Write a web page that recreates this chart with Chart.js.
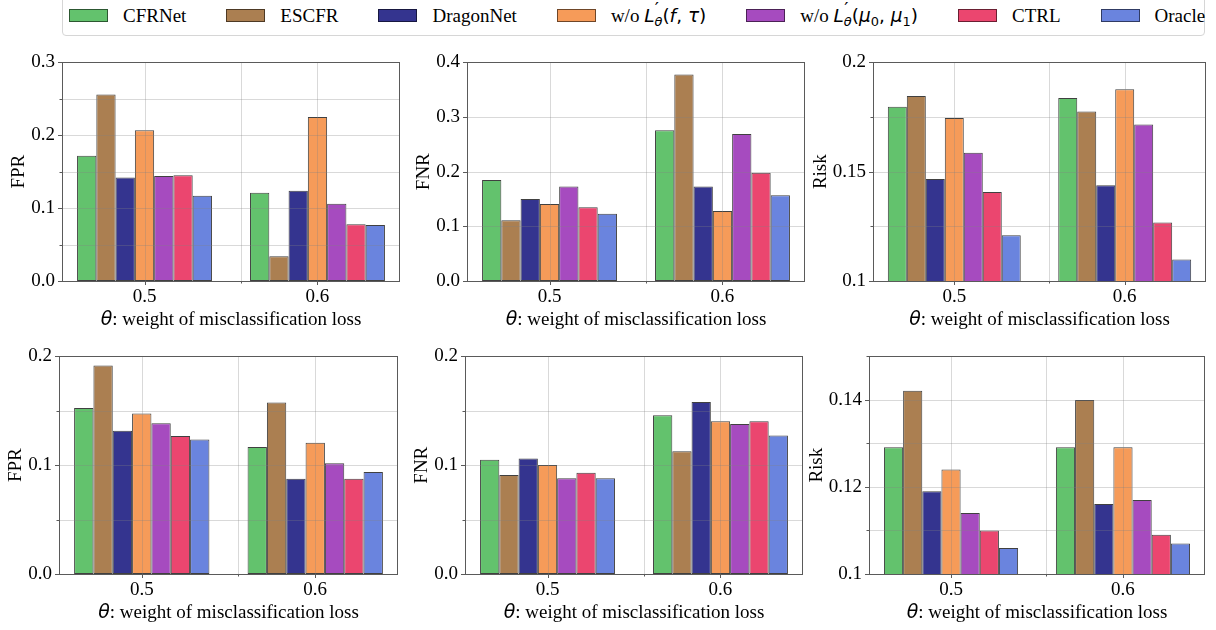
<!DOCTYPE html>
<html>
<head>
<meta charset="utf-8">
<script src="https://cdn.jsdelivr.net/npm/chart.js@4.4.1/dist/chart.umd.min.js"></script>
<style>
  html, body { margin: 0; padding: 0; background: #fff; }
  body { width: 1216px; height: 630px; position: relative; overflow: hidden; }
  canvas { position: absolute; }
  #legend {
    position: absolute; left: 62px; top: -4px; width: 1143px; height: 39.5px;
    box-sizing: border-box; border: 1px solid #d6d6d6; border-radius: 4px;
    display: flex; align-items: center; padding-left: 6px;
    font: 19px "Liberation Serif", serif; color: #000; white-space: nowrap;
  }
  .item { display: flex; align-items: center; margin-right: 40px; }
  .patch { width: 39px; height: 13px; margin-right: 15px; box-sizing: border-box; border: 1px solid rgba(0,0,0,0.55); }
  .m { font-family: "DejaVu Sans", sans-serif; font-size: 18.5px; }
  .m i { font-style: italic; }
  .m .pr { font-size: 1em; position: relative; top: -0.35em; margin-left: 0.02em; }
  .m .sb { font-size: 0.7em; margin-left: -0.35em; position: relative; top: 0.3em; font-style: italic; }
  .m .ix { font-size: 0.7em; position: relative; top: 0.3em; }
</style>
</head>
<body>
<div id="legend"></div>
<script>
// categories and methods
var thetas = ["0.5", "0.6"];
var methods = ["CFRNet", "ESCFR", "DragonNet", "w/o L'θ(f, τ)", "w/o L'θ(μ0, μ1)", "CTRL", "Oracle"];
var legendMarkup = [
  "CFRNet", "ESCFR", "DragonNet",
  'w/o <span class="m"><i>L</i><span class="pr">′</span><span class="sb">θ</span>(<i>f</i>, <i>τ</i>)</span>',
  'w/o <span class="m"><i>L</i><span class="pr">′</span><span class="sb">θ</span>(<i>μ</i><span class="ix">0</span>, <i>μ</i><span class="ix">1</span>)</span>',
  "CTRL", "Oracle"
];

// values per method: [theta 0.5, theta 0.6]
var fprTop = [[0.172, 0.121], [0.256, 0.034], [0.142, 0.124], [0.207, 0.225], [0.144, 0.106], [0.145, 0.078], [0.117, 0.077]];
var fnrTop = [[0.185, 0.276], [0.111, 0.378], [0.150, 0.173], [0.141, 0.128], [0.173, 0.269], [0.135, 0.198], [0.123, 0.157]];
var riskTop = [[0.1797, 0.1837], [0.1846, 0.1775], [0.1467, 0.1438], [0.1746, 0.1877], [0.1587, 0.1716], [0.1407, 0.1268], [0.1209, 0.1098]];
var fprBottom = [[0.1525, 0.1167], [0.1916, 0.1576], [0.1316, 0.0875], [0.1475, 0.1206], [0.1385, 0.1018], [0.1269, 0.0875], [0.1236, 0.0937]];
var fnrBottom = [[0.1049, 0.1459], [0.0909, 0.1129], [0.1061, 0.1581], [0.1001, 0.1403], [0.088, 0.1379], [0.093, 0.1403], [0.088, 0.1272]];
var riskBottom = [[0.1291, 0.1291], [0.1421, 0.140], [0.119, 0.1161], [0.124, 0.1291], [0.114, 0.117], [0.110, 0.109], [0.106, 0.107]];

// y ticks (blank label = minor tick)
var fprTopTicks = [0, 0.05, 0.1, 0.15, 0.2, 0.25, 0.3];
var fprTopLabels = ["0.0", "", "0.1", "", "0.2", "", "0.3"];
var fnrTopTicks = [0, 0.1, 0.2, 0.3, 0.4];
var fnrTopLabels = ["0.0", "0.1", "0.2", "0.3", "0.4"];
var riskTopTicks = [0.1, 0.125, 0.15, 0.175, 0.2];
var riskTopLabels = ["0.1", "", "0.15", "", "0.2"];
var rateBottomTicks = [0, 0.05, 0.1, 0.15, 0.2];
var rateBottomLabels = ["0.0", "", "0.1", "", "0.2"];
var riskBottomTicks = [0.1, 0.11, 0.12, 0.13, 0.14, 0.15];
var riskBottomLabels = ["0.1", "", "0.12", "", "0.14", ""];

var xMinor = [0.555];
var xTitleRest = ": weight of misclassification loss";

var fills = ["#63c26d", "#ab7f51", "#34348f", "#f69b59", "#a64bbf", "#eb466f", "#6a84de"];
var edge = "rgba(0,0,0,0.75)";
var axisColor = "#5a5a5a";
var gridColor = "rgba(128,128,128,0.3)";
var serif = "'Liberation Serif', serif";
var fontSize = 19;

var panels = [
  { box: [62, 56, 400, 281], values: fprTop, ticks: fprTopTicks, labels: fprTopLabels, title: "FPR" },
  { box: [467, 56, 805, 281], values: fnrTop, ticks: fnrTopTicks, labels: fnrTopLabels, title: "FNR" },
  { box: [873, 56, 1206, 281], values: riskTop, ticks: riskTopTicks, labels: riskTopLabels, title: "Risk" },
  { box: [59, 350, 398, 574], values: fprBottom, ticks: rateBottomTicks, labels: rateBottomLabels, title: "FPR" },
  { box: [465, 350, 803, 574], values: fnrBottom, ticks: rateBottomTicks, labels: rateBottomLabels, title: "FNR" },
  { box: [869, 350, 1205, 574], values: riskBottom, ticks: riskBottomTicks, labels: riskBottomLabels, title: "Risk" }
];

var Y_W = 70, X_H = 52, PAD_T = 12, PAD_R = 6;

function buildLegend() {
  var el = document.getElementById("legend");
  legendMarkup.forEach(function (html, i) {
    var item = document.createElement("span");
    item.className = "item";
    item.innerHTML = '<span class="patch" style="background:' + fills[i] + '"></span><span>' + html + "</span>";
    el.appendChild(item);
  });
}

function decorPlugin(p) {
  return {
    id: "decor",
    afterDatasetsDraw: function (chart) {
      var ctx = chart.ctx, a = chart.chartArea, x = chart.scales.x, y = chart.scales.y;
      var ymin = p.ticks[0], ymax = p.ticks[p.ticks.length - 1];
      var textFont = fontSize + "px " + serif;
      var mathFont = "italic " + fontSize + "px 'DejaVu Sans'";
      ctx.save();
      // grid on top of bars, like matplotlib
      ctx.strokeStyle = gridColor;
      ctx.lineWidth = 1;
      ctx.beginPath();
      p.ticks.forEach(function (v) {
        if (v <= ymin || v >= ymax) return;
        var py = Math.round(y.getPixelForValue(v)) + 0.5;
        ctx.moveTo(a.left, py); ctx.lineTo(a.right, py);
      });
      [0, 1].concat(xMinor).forEach(function (v) {
        var px = Math.round(x.getPixelForValue(v)) + 0.5;
        ctx.moveTo(px, a.top); ctx.lineTo(px, a.bottom);
      });
      ctx.stroke();
      // frame and tick marks
      ctx.strokeStyle = axisColor;
      ctx.strokeRect(Math.round(a.left) + 0.5, Math.round(a.top) + 0.5, Math.round(a.right - a.left) - 1, Math.round(a.bottom - a.top));
      ctx.beginPath();
      p.ticks.forEach(function (v, i) {
        var py = Math.round(y.getPixelForValue(v)) + 0.5;
        var len = p.labels[i] ? 4 : 2.5;
        ctx.moveTo(a.left, py); ctx.lineTo(a.left - len, py);
      });
      [0, 1].forEach(function (v) {
        var px = Math.round(x.getPixelForValue(v)) + 0.5;
        ctx.moveTo(px, a.bottom); ctx.lineTo(px, a.bottom + 4);
      });
      xMinor.forEach(function (v) {
        var px = Math.round(x.getPixelForValue(v)) + 0.5;
        ctx.moveTo(px, a.bottom); ctx.lineTo(px, a.bottom + 2.5);
      });
      ctx.stroke();
      // axis titles
      ctx.fillStyle = "#000";
      ctx.font = textFont;
      var maxW = 0;
      p.labels.forEach(function (s) { maxW = Math.max(maxW, ctx.measureText(s).width); });
      ctx.save();
      ctx.translate(a.left - 7 - maxW - 12, (a.top + a.bottom) / 2);
      ctx.rotate(-Math.PI / 2);
      ctx.textAlign = "center";
      ctx.textBaseline = "middle";
      ctx.fillText(p.title, 0, 0);
      ctx.restore();
      ctx.font = mathFont;
      var wTheta = ctx.measureText("θ").width;
      ctx.font = textFont;
      var wRest = ctx.measureText(xTitleRest).width;
      var start = (a.left + a.right) / 2 - (wTheta + wRest) / 2;
      var base = a.bottom + 43.5;
      ctx.textAlign = "left";
      ctx.textBaseline = "alphabetic";
      ctx.font = mathFont;
      ctx.fillText("θ", start, base);
      ctx.font = textFont;
      ctx.fillText(xTitleRest, start + wTheta, base);
      ctx.restore();
    }
  };
}

function makePanel(p) {
  var l = p.box[0], t = p.box[1], r = p.box[2], b = p.box[3];
  var canvas = document.createElement("canvas");
  var left = l - Y_W, top = t - PAD_T;
  canvas.width = r + PAD_R - left;
  canvas.height = b + X_H - top;
  canvas.style.left = left + "px";
  canvas.style.top = top + "px";
  document.body.appendChild(canvas);
  new Chart(canvas, {
    type: "bar",
    data: {
      datasets: methods.map(function (m, i) {
        return {
          label: m,
          data: p.values[i].map(function (v, j) { return { x: j, y: v }; }),
          backgroundColor: fills[i],
          borderColor: edge,
          borderWidth: 1,
          borderSkipped: false
        };
      })
    },
    options: {
      responsive: false,
      animation: false,
      devicePixelRatio: 1,
      layout: { padding: { top: PAD_T, right: PAD_R, left: 0, bottom: 0 } },
      datasets: { bar: { categoryPercentage: 0.78, barPercentage: 1 } },
      plugins: { legend: { display: false }, tooltip: { enabled: false } },
      scales: {
        x: {
          type: "linear", offset: false, min: -0.477, max: 1.477,
          afterBuildTicks: function (s) { s.ticks = [{ value: 0 }, { value: 1 }]; },
          afterFit: function (s) { s.height = X_H; },
          grid: { display: false, drawTicks: false },
          border: { display: false },
          ticks: { padding: 5, font: { family: serif, size: fontSize }, color: "#000", maxRotation: 0, autoSkip: false,
            callback: function (v) { return thetas[v]; } }
        },
        y: {
          type: "linear", min: p.ticks[0], max: p.ticks[p.ticks.length - 1],
          afterBuildTicks: function (s) { s.ticks = p.ticks.map(function (v) { return { value: v }; }); },
          afterFit: function (s) { s.width = Y_W; },
          grid: { display: false, drawTicks: false },
          border: { display: false },
          ticks: { padding: 7, font: { family: serif, size: fontSize }, color: "#000", autoSkip: false,
            callback: function (v, i) { return p.labels[i]; } }
        }
      }
    },
    plugins: [decorPlugin(p)]
  });
}

buildLegend();
panels.forEach(makePanel);
</script>
</body>
</html>
